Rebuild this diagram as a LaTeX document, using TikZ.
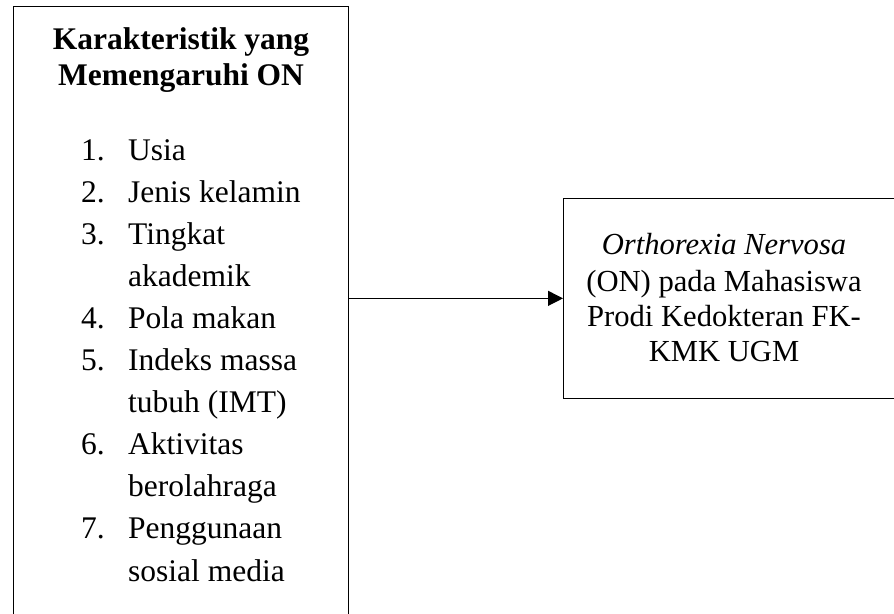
\documentclass[tikz,border=0pt]{standalone}
\usepackage{fontspec}
\setmainfont{Liberation Serif}
\usetikzlibrary{arrows.meta}
\begin{document}
\begin{tikzpicture}[x=1pt,y=-1pt,
  txt/.style={inner sep=0pt, font=\fontsize{31.5}{36}\selectfont},
  rtxt/.style={inner sep=0pt, font=\fontsize{30.6}{36}\selectfont},
  ttl/.style={inner sep=0pt, font=\fontsize{31.5}{36}\selectfont\bfseries},
  boxst/.style={draw=black, line width=1.2pt, inner sep=0pt},
  conn/.style={draw=black, line width=1.2pt, -{Triangle[length=15pt,width=15pt]}},
]
\useasboundingbox (0,0) rectangle (894,613);
\clip (0,0) rectangle (894,613);
\node[boxst, minimum width=335.5pt, minimum height=700pt, anchor=north west] (L) at (12.5,5.5) {};
\node[boxst, minimum width=340pt, minimum height=200.5pt, anchor=north west] (R) at (563,197.5) {};
\draw[conn] (L.east |- R.west) -- (R.west);

\node[ttl, anchor=base] (h1) at (181,49) {Karakteristik yang};
\node[ttl, anchor=base] (h2) at (181,85) {Memengaruhi ON};

\foreach \k/\n/\t in {0/1./Usia, 1/2./Jenis kelamin, 2/3./Tingkat, 3//akademik,
  4/4./Pola makan, 5/5./Indeks massa, 6//tubuh (IMT), 7/6./Aktivitas,
  8//berolahraga, 9/7./Penggunaan, 10//sosial media}{
  \node[txt, anchor=base west] (num\k) at (81,160+42.1*\k) {\n};
  \node[txt, anchor=base west] (item\k) at (128,160+42.1*\k) {\t};
}

\node[rtxt, anchor=base] (r1) at (724,254) {\textit{Orthorexia Nervosa}};
\node[rtxt, anchor=base] (r2) at (724,291) {(ON) pada Mahasiswa};
\node[rtxt, anchor=base] (r3) at (724,326) {Prodi Kedokteran FK-};
\node[rtxt, anchor=base] (r4) at (724,361) {KMK UGM};
\end{tikzpicture}
\end{document}
